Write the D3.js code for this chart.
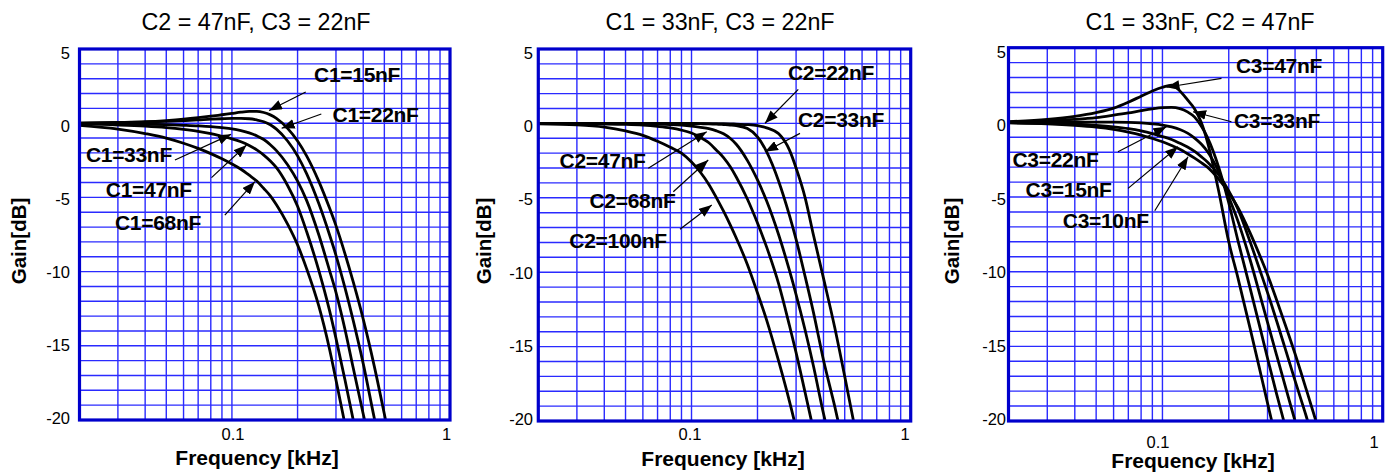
<!DOCTYPE html>
<html><head><meta charset="utf-8">
<script src="https://cdn.jsdelivr.net/npm/d3@7"></script>
<style>body{margin:0;background:#fff}svg{display:block;font-family:"Liberation Sans",Arial,sans-serif}</style>
</head><body>
<svg id="c" width="1389" height="476"></svg>
<script>
// ---------------- DATA ----------------
const freq = [0.02,0.03,0.04,0.05,0.06,0.07,0.08,0.09,0.1,0.11,0.12,0.13,0.14,0.15,0.16,0.18,0.2,0.22,0.25,0.28,0.3,0.33,0.36,0.4,0.45,0.5,0.55,0.6];

const yTicks = [5,0,-5,-10,-15,-20];
const xTickVals = [0.1, 1];
const xTickLabels = ["0.1","1"];
const gridFreq = [0.03,0.04,0.05,0.06,0.07,0.08,0.09,0.1,0.2,0.3,0.4,0.5,0.6,0.7,0.8,0.9];
const gridDb = [4,3,2,1,0,-1,-2,-3,-4,-5,-6,-7,-8,-9,-10,-11,-12,-13,-14,-15,-16,-17,-18,-19];

const titles = ["C2 = 47nF, C3 = 22nF","C1 = 33nF, C3 = 22nF","C1 = 33nF, C2 = 47nF"];
const xTitle = "Frequency [kHz]";
const yTitle = "Gain[dB]";

// Panel 1: C1 varies
const p1Names = ["C1=15nF","C1=22nF","C1=33nF","C1=47nF","C1=68nF"];
const p1_c15 = [0,0.05,0.1,0.18,0.27,0.37,0.47,0.57,0.66,0.74,0.79,0.8,0.72,0.56,0.33,-0.35,-1.2,-2.2,-3.9,-5.7,-6.9,-8.8,-10.7,-13.2,-16.4,-19.6,-22.6,-25.2];
const p1_c22 = [0,0.03,0.07,0.12,0.17,0.22,0.27,0.3,0.32,0.32,0.3,0.22,0.1,-0.1,-0.4,-1.2,-2.2,-3.4,-5.4,-7.5,-8.9,-11.1,-13.3,-16.2,-19.9,-23.0,-25.8,-28.3];
const p1_c33 = [-0.02,-0.04,-0.07,-0.1,-0.14,-0.18,-0.23,-0.3,-0.38,-0.5,-0.65,-0.85,-1.1,-1.45,-1.85,-2.8,-3.9,-5.2,-7.5,-9.9,-11.4,-13.9,-16.5,-19.6,-22.9,-25.9,-28.5,-31];
const p1_c47 = [-0.05,-0.12,-0.2,-0.3,-0.42,-0.55,-0.7,-0.88,-1.05,-1.25,-1.5,-1.8,-2.15,-2.55,-3.0,-4.2,-5.6,-7.3,-9.9,-12.6,-14.5,-17.3,-20.0,-23.0,-26.2,-29,-31.5,-33.8];
const p1_c68 = [-0.15,-0.4,-0.7,-1.0,-1.35,-1.7,-2.05,-2.4,-2.75,-3.1,-3.5,-3.9,-4.4,-4.9,-5.5,-6.8,-8.2,-9.8,-12.3,-15.2,-17.3,-20.3,-23.1,-26.3,-29.5,-32.3,-34.8,-37];

// Panel 2: C2 varies
const p2Names = ["C2=22nF","C2=33nF","C2=47nF","C2=68nF","C2=100nF"];
const p2_c22 = [0,0,0,0,0,0,0,0,0,-0.01,-0.01,-0.02,-0.02,-0.03,-0.05,-0.08,-0.15,-0.3,-0.7,-1.8,-3.0,-5.0,-7.5,-10.4,-13.7,-17.0,-20.1,-22.8];
const p2_c33 = [0,0,0,0,0,0,0,0,-0.01,-0.02,-0.03,-0.05,-0.08,-0.11,-0.15,-0.35,-0.9,-1.9,-3.9,-6.2,-7.8,-10.3,-12.7,-15.9,-19.0,-22.0,-24.8,-27.5];
const p2_c47 = [0,0,-0.01,-0.02,-0.03,-0.05,-0.08,-0.12,-0.18,-0.26,-0.35,-0.5,-0.7,-1.0,-1.4,-2.5,-3.8,-5.2,-7.5,-9.9,-11.5,-13.9,-16.3,-19.5,-22.5,-25.3,-28,-30.3];
const p2_c68 = [0,-0.02,-0.04,-0.07,-0.12,-0.2,-0.3,-0.45,-0.65,-0.95,-1.3,-1.8,-2.3,-2.9,-3.6,-5.1,-6.7,-8.3,-10.8,-13.6,-15.4,-18.1,-20.6,-23.6,-26.8,-29.6,-32,-34.3];
const p2_c100 = [-0.03,-0.1,-0.25,-0.5,-0.8,-1.2,-1.6,-2.0,-2.6,-3.3,-4.1,-5.0,-5.9,-6.8,-7.7,-9.5,-11.4,-13.2,-16.0,-18.7,-20.5,-23.3,-25.8,-28.8,-32,-34.8,-37.3,-39.5];

// Panel 3: C3 varies
const p3Names = ["C3=47nF","C3=33nF","C3=22nF","C3=15nF","C3=10nF"];
const p3_c47 = [0.05,0.2,0.4,0.65,0.95,1.35,1.75,2.1,2.35,2.5,2.1,1.5,0.9,0.0,-1.3,-4.6,-8.0,-10.4,-13.8,-16.9,-18.8,-21.4,-23.7,-26.5,-29.5,-32,-34.5,-36.5];
const p3_c33 = [0.02,0.1,0.2,0.32,0.48,0.63,0.78,0.9,0.98,1.0,0.92,0.7,0.35,-0.25,-1.0,-3.0,-5.4,-7.9,-11.1,-14.0,-15.8,-18.2,-20.3,-23,-26.1,-28.8,-31.2,-33.4];
const p3_c22 = [0,0.01,0.02,0.02,0.02,0,-0.04,-0.1,-0.18,-0.3,-0.48,-0.72,-1.05,-1.45,-1.95,-3.3,-5.0,-6.6,-9.2,-11.8,-13.4,-15.6,-17.6,-20.0,-22.7,-25.2,-27.4,-29.5];
const p3_c15 = [-0.02,-0.06,-0.12,-0.2,-0.3,-0.42,-0.57,-0.75,-0.95,-1.15,-1.4,-1.65,-1.95,-2.3,-2.65,-3.5,-4.6,-5.8,-8.0,-10.1,-11.4,-13.3,-15.1,-17.3,-19.7,-22.0,-24,-26];
const p3_c10 = [-0.04,-0.1,-0.2,-0.32,-0.47,-0.65,-0.85,-1.08,-1.3,-1.55,-1.8,-2.1,-2.4,-2.7,-3.0,-3.8,-4.7,-5.7,-7.4,-9.1,-10.2,-11.9,-13.5,-15.5,-17.9,-20.1,-22.2,-24.1];

// annotation anchors in data coordinates: [label f, label dB, from f, from dB, tip f, tip dB]
const p1Notes = [[0.375,2.8,0.218,2.1,0.148,0.85],[0.456,0.1,0.257,0.62,0.169,-0.34],[0.0337,-2.59,0.0548,-2.48,0.099,-0.75],[0.0416,-4.95,0.0806,-3.67,0.1167,-1.47],[0.0458,-7.2,0.0928,-6.19,0.1274,-3.94]];
const p2Notes = [[0.433,2.92,0.307,2.29,0.2164,0.01],[0.481,-0.22,0.3125,-0.67,0.2164,-1.9],[0.0393,-3.02,0.0635,-3.02,0.1173,-0.56],[0.0538,-5.71,0.0826,-4.59,0.1192,-2.46],[0.0462,-8.39,0.0886,-7.12,0.1237,-5.48]];
const p3Notes = [[0.338,3.29,0.1854,2.95,0.1043,2.35],[0.331,-0.4,0.2058,0.04,0.1377,0.71],[0.0327,-2.97,0.0628,-1.97,0.1043,-0.29],[0.0375,-4.98,0.0698,-4.42,0.1177,-1.63],[0.0553,-7.1,0.0923,-5.92,0.1307,-2.3]];

// ---------------- LAYOUT ----------------
const panels = [
  {x0:79.5, x1:450, y0:49, y1:420, title:titles[0], tx:256, gx:19, xl:257, xlY:465, tickY:440, t01dx:1, t1dx:-3.5, ytR:70,
   names:p1Names, series:[p1_c15,p1_c22,p1_c33,p1_c47,p1_c68], notes:p1Notes},
  {x0:538.3, x1:910.7, y0:49, y1:421, title:titles[1], tx:720, gx:484, xl:723, xlY:466, tickY:440, t01dx:-1.5, t1dx:-5.5, ytR:533,
   names:p2Names, series:[p2_c22,p2_c33,p2_c47,p2_c68,p2_c100], notes:p2Notes},
  {x0:1008.5, x1:1382.7, y0:47.7, y1:421, title:titles[2], tx:1200, gx:952, xl:1193, xlY:468, tickY:448, t01dx:-4.5, t1dx:-8.5, ytR:1006,
   names:p3Names, series:[p3_c47,p3_c33,p3_c22,p3_c15,p3_c10], notes:p3Notes}
];

const svg = d3.select("#c");
const defs = svg.append("defs");
defs.append("marker").attr("id","ah").attr("viewBox","0 0 13 10").attr("refX",13).attr("refY",5)
  .attr("markerWidth",13).attr("markerHeight",10).attr("markerUnits","userSpaceOnUse").attr("orient","auto")
  .append("path").attr("d","M0,0 L13,5 L0,10 Z").attr("fill","#000");

const GRID = "#2a2aff", BORDER = "#0000cc";

panels.forEach((p, i) => {
  const x = d3.scaleLog().domain([0.02, 1]).range([p.x0, p.x1]);
  const y = d3.scaleLinear().domain([5, -20]).range([p.y0, p.y1]);
  const yLab = d3.scaleLinear().domain([5, -20]).range([p.y0 + 10, p.y1 + 4]);
  const g = svg.append("g");

  defs.append("clipPath").attr("id","clip"+i).append("rect")
    .attr("x",p.x0).attr("y",p.y0).attr("width",p.x1-p.x0).attr("height",p.y1-p.y0);

  // title
  g.append("text").attr("x",p.tx).attr("y",30).attr("text-anchor","middle")
    .attr("font-size",23.3).attr("fill","#000").text(p.title);

  // grid
  g.append("g").selectAll("line").data(gridFreq).join("line")
    .attr("x1",d=>x(d)).attr("x2",d=>x(d)).attr("y1",p.y0).attr("y2",p.y1)
    .attr("stroke",GRID).attr("stroke-width",1.4);
  g.append("g").selectAll("line").data(gridDb).join("line")
    .attr("x1",p.x0).attr("x2",p.x1).attr("y1",d=>y(d)).attr("y2",d=>y(d))
    .attr("stroke",GRID).attr("stroke-width",1.4);

  // curves
  const line = d3.line().x((d,k)=>x(freq[k])).y(d=>y(d)).curve(d3.curveMonotoneX);
  g.append("g").attr("clip-path","url(#clip"+i+")").selectAll("path").data(p.series).join("path")
    .attr("d",line).attr("fill","none").attr("stroke","#000").attr("stroke-width",2.8)
    .attr("stroke-linejoin","round");

  // border
  g.append("rect").attr("x",p.x0).attr("y",p.y0).attr("width",p.x1-p.x0).attr("height",p.y1-p.y0)
    .attr("fill","none").attr("stroke",BORDER).attr("stroke-width",3.2);

  // y tick labels
  g.append("g").selectAll("text").data(yTicks).join("text")
    .attr("x",p.ytR).attr("y",d=>yLab(d)).attr("text-anchor","end").attr("font-size",16.5).attr("fill","#000")
    .text(d=>d);
  // x tick labels
  g.append("g").selectAll("text").data(xTickVals).join("text")
    .attr("x",(d,k)=>x(d)+(k===0?p.t01dx:p.t1dx)).attr("y",p.tickY).attr("text-anchor","middle")
    .attr("font-size",16.5).attr("fill","#000").text((d,k)=>xTickLabels[k]);

  // axis titles
  g.append("text").attr("x",p.xl).attr("y",p.xlY).attr("text-anchor","middle")
    .attr("font-size",21).attr("font-weight","bold").attr("fill","#000").text(xTitle);
  g.append("text").attr("transform",`translate(${p.gx},241) rotate(-90)`).attr("dy","0.35em")
    .attr("text-anchor","middle").attr("font-size",20.5).attr("font-weight","bold").attr("fill","#000").text(yTitle);

  // annotations
  p.notes.forEach((n, k) => {
    g.append("line").attr("x1",x(n[2])).attr("y1",y(n[3])).attr("x2",x(n[4])).attr("y2",y(n[5]))
      .attr("stroke","#000").attr("stroke-width",1.2).attr("marker-end","url(#ah)");
    g.append("text").attr("x",x(n[0])).attr("y",y(n[1])).attr("text-anchor","middle")
      .attr("font-size",21).attr("font-weight","bold").attr("letter-spacing","-0.3").attr("fill","#000")
      .text(p.names[k]);
  });
});
</script>
</body></html>
